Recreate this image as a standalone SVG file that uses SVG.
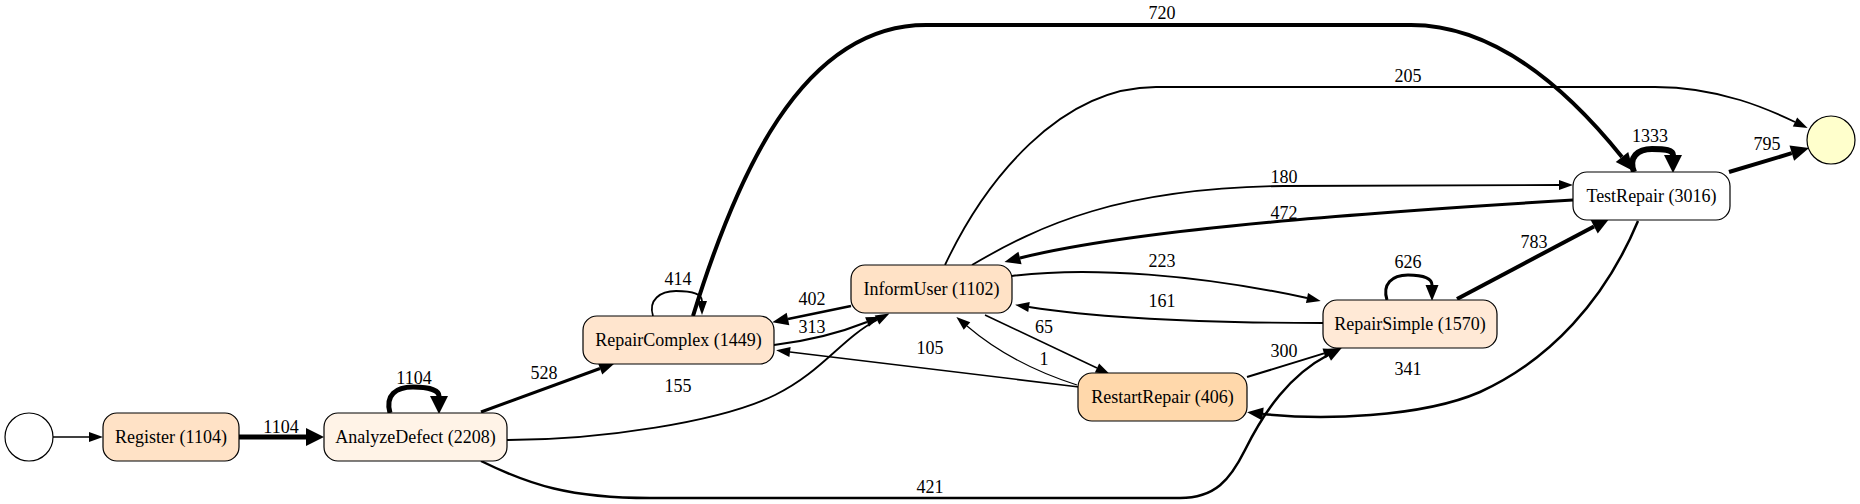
<svg xmlns="http://www.w3.org/2000/svg" width="1860" height="504" viewBox="0 0 1860 504" font-family="'Liberation Serif', 'DejaVu Serif', serif" font-size="18">
<defs>
<style>
text{font-family:'Liberation Serif','DejaVu Serif',serif;font-size:18px;fill:#000;text-anchor:middle}
.n rect,.n circle{stroke:#000;stroke-width:1.2}
.e path{fill:none;stroke:#000}
</style>
<marker id="as" markerUnits="userSpaceOnUse" markerWidth="16" markerHeight="12" refX="0" refY="6" orient="auto" overflow="visible"><path d="M0,1 L14,6 L0,11 z" fill="#000"/></marker>
<marker id="am" markerUnits="userSpaceOnUse" markerWidth="18" markerHeight="14" refX="0" refY="7" orient="auto" overflow="visible"><path d="M0,0.5 L16,7 L0,13.5 z" fill="#000"/></marker>
<marker id="al" markerUnits="userSpaceOnUse" markerWidth="20" markerHeight="18" refX="0" refY="9" orient="auto" overflow="visible"><path d="M0,1 L18,9 L0,17 z" fill="#000"/></marker>
<marker id="ax" markerUnits="userSpaceOnUse" markerWidth="20" markerHeight="20" refX="0" refY="10" orient="auto" overflow="visible"><path d="M0,1 L18,10 L0,19 z" fill="#000"/></marker>
</defs>
<rect width="1860" height="504" fill="#fff"/>
<g id="edges" class="e">
<path d="M53,437 L89,437" stroke-width="1.3" marker-end="url(#as)"/>
<path d="M239,437 L306,437" stroke-width="5" marker-end="url(#ax)"/>
<text x="281" y="433">1104</text>
<path d="M390,413 C385,395 396,387 413,387 C428,387 439,390 439,396" stroke-width="5" marker-end="url(#ax)"/>
<text x="414" y="384">1104</text>
<path d="M481,412 L600,368.5" stroke-width="3" marker-end="url(#am)"/>
<text x="544" y="379">528</text>
<path d="M507,440 C600,440 720,422 775,395 C822,372 842,338 877,320" stroke-width="1.8" marker-end="url(#as)"/>
<text x="678" y="392">155</text>
<path d="M774,345 C815,340 842,332 867,322" stroke-width="2.2" marker-end="url(#as)"/>
<text x="812" y="333">313</text>
<path d="M851,306 L788,319" stroke-width="2.5" marker-end="url(#am)"/>
<text x="812" y="305">402</text>
<path d="M653,316 C648,300 660,291 676,291 C692,291 702,294 702,301" stroke-width="1.8" marker-end="url(#as)"/>
<text x="678" y="285">414</text>
<path d="M693,316 C735,180 800,25 926,25 L1411,25 C1490,25 1560,80 1622,157" stroke-width="4" marker-end="url(#al)"/>
<text x="1162" y="19">720</text>
<path d="M945,265 C985,180 1060,87 1156,87 L1655,87 C1720,87 1770,110 1795,122" stroke-width="1.8" marker-end="url(#as)"/>
<text x="1408" y="82">205</text>
<path d="M972,265 C1040,225 1120,188 1284,186 L1559,185" stroke-width="1.8" marker-end="url(#as)"/>
<text x="1284" y="183">180</text>
<path d="M1573,200 C1380,212 1140,228 1020,258" stroke-width="3" marker-end="url(#am)"/>
<text x="1284" y="219">472</text>
<path d="M1012,276 C1090,266 1200,275 1307,298" stroke-width="2" marker-end="url(#as)"/>
<text x="1162" y="267">223</text>
<path d="M1323,323 C1200,323 1100,318 1029,307" stroke-width="1.8" marker-end="url(#as)"/>
<text x="1162" y="307">161</text>
<path d="M985,315 L1097,368" stroke-width="1.5" marker-end="url(#as)"/>
<text x="1044" y="333">65</text>
<path d="M1077,385 C1030,370 995,350 967,326" stroke-width="1.2" marker-end="url(#as)"/>
<text x="1044" y="365">1</text>
<path d="M1079,387 L790,352" stroke-width="1.5" marker-end="url(#as)"/>
<text x="930" y="354">105</text>
<path d="M1247,377 L1324,353.4" stroke-width="2" marker-end="url(#as)"/>
<text x="1284" y="357">300</text>
<path d="M481,461 C530,485 570,498 650,498 L1180,498 C1215,498 1230,480 1245,450 C1265,410 1290,375 1328,355" stroke-width="2.5" marker-end="url(#am)"/>
<text x="930" y="493">421</text>
<path d="M1387,300 C1382,284 1392,275 1408,275 C1424,275 1432,279 1432,285" stroke-width="3" marker-end="url(#am)"/>
<text x="1408" y="268">626</text>
<path d="M1457,299 L1594,226.4" stroke-width="4" marker-end="url(#al)"/>
<text x="1534" y="248">783</text>
<path d="M1638,221 C1605,300 1550,360 1480,392 C1420,418 1320,420 1263,414" stroke-width="2.5" marker-end="url(#am)"/>
<text x="1408" y="375">341</text>
<path d="M1634,172 C1628,157 1638,149 1652,149 C1666,149 1673,150 1673,155" stroke-width="6" marker-end="url(#ax)"/>
<text x="1650" y="142">1333</text>
<path d="M1729,172 L1791.8,153.2" stroke-width="4" marker-end="url(#al)"/>
<text x="1767" y="150">795</text>
</g>
<g id="start" class="n"><circle cx="29" cy="437" r="24" fill="#fff"/></g>
<g id="register" class="n"><rect x="103" y="413" width="136" height="48" rx="14" fill="#FFE2C6"/><text x="171" y="443">Register (1104)</text></g>
<g id="analyzedefect" class="n"><rect x="324" y="413" width="183" height="48" rx="14" fill="#FFF3E7"/><text x="415.5" y="443">AnalyzeDefect (2208)</text></g>
<g id="repaircomplex" class="n"><rect x="583" y="316" width="191" height="48" rx="14" fill="#FFE5CE"/><text x="678.5" y="346">RepairComplex (1449)</text></g>
<g id="informuser" class="n"><rect x="851" y="265" width="161" height="48" rx="14" fill="#FFE2C6"/><text x="931.5" y="295">InformUser (1102)</text></g>
<g id="restartrepair" class="n"><rect x="1078" y="373" width="169" height="48" rx="14" fill="#FFD8AB"/><text x="1162.5" y="403">RestartRepair (406)</text></g>
<g id="repairsimple" class="n"><rect x="1323" y="300" width="174" height="48" rx="14" fill="#FFE9D6"/><text x="1410" y="330">RepairSimple (1570)</text></g>
<g id="testrepair" class="n"><rect x="1573" y="172" width="157" height="48" rx="14" fill="#FFFFFF"/><text x="1651.5" y="202">TestRepair (3016)</text></g>
<g id="end" class="n"><circle cx="1831" cy="140" r="24" fill="#FFFFCC"/></g>
</svg>
